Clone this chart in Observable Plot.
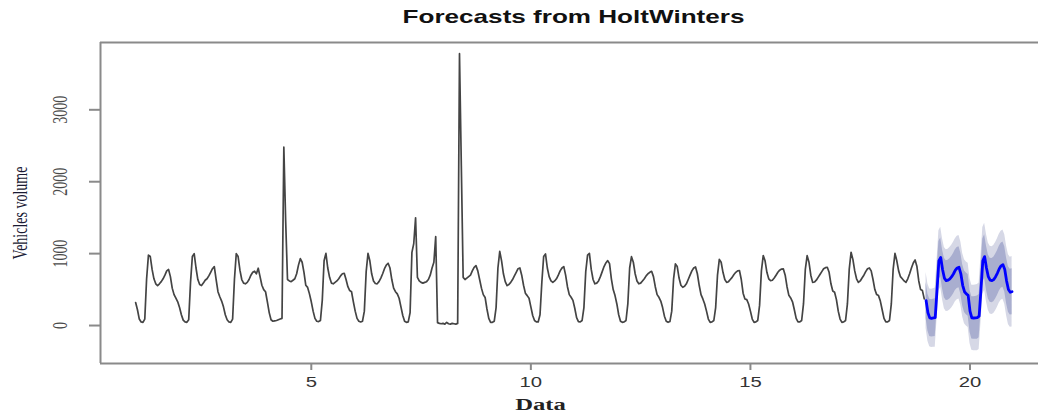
<!DOCTYPE html>
<html>
<head>
<meta charset="utf-8">
<script src="https://cdn.jsdelivr.net/npm/d3@7"></script>
<script src="https://cdn.jsdelivr.net/npm/@observablehq/plot@0.6"></script>
<style>
  html, body { margin: 0; padding: 0; background: #ffffff; }
</style>
</head>
<body>
<div id="chart"></div>
<script>
// ---- DATA ----
const title = "Forecasts from HoltWinters";
const xLabel = "Data";
const yLabel = "Vehicles volume";
const xTicks = [5, 10, 15, 20];
const yTicks = [0, 1000, 2000, 3000];
const startTime = 1;
const frequency = 24;

// observed hourly vehicle volume, one row per day (days 1..18)
const day01 = [320, 220, 90, 50, 45, 90, 650, 980, 960, 780, 650, 580, 555, 580, 610, 650, 700, 760, 780, 680, 520, 430, 380, 330];
const day02 = [250, 150, 75, 50, 45, 80, 600, 960, 1000, 800, 640, 570, 555, 590, 630, 650, 690, 740, 790, 820, 640, 470, 400, 340];
const day03 = [260, 150, 80, 50, 45, 90, 640, 1000, 960, 770, 640, 590, 580, 600, 640, 700, 740, 755, 720, 797, 680, 560, 500, 470];
const day04 = [330, 180, 80, 60, 65, 70, 80, 90, 100, 2480, 1450, 640, 620, 610, 630, 650, 720, 840, 930, 880, 740, 560, 530, 440];
const day05 = [330, 200, 100, 60, 55, 70, 350, 900, 1004, 800, 670, 590, 580, 600, 620, 650, 690, 720, 727, 640, 540, 486, 470, 330];
const day06 = [200, 100, 60, 50, 60, 200, 750, 1004, 900, 720, 620, 585, 580, 610, 660, 720, 790, 840, 866, 800, 640, 520, 470, 440];
const day07 = [380, 260, 140, 60, 45, 50, 180, 1018, 1140, 1497, 670, 620, 600, 590, 600, 610, 640, 700, 800, 880, 1236, 40, 30, 25];
const day08 = [30, 20, 45, 25, 20, 30, 25, 20, 30, 3780, 2220, 670, 640, 660, 680, 700, 760, 810, 833, 760, 640, 520, 430, 390];
const day09 = [230, 100, 45, 45, 60, 250, 800, 1030, 900, 720, 610, 555, 570, 600, 640, 690, 740, 790, 801, 700, 560, 450, 416, 380];
const day10 = [260, 140, 70, 50, 50, 150, 600, 960, 995, 800, 680, 620, 600, 620, 650, 700, 760, 800, 820, 700, 540, 430, 393, 350];
const day11 = [240, 110, 55, 50, 70, 250, 750, 980, 1004, 780, 640, 580, 590, 620, 680, 750, 820, 870, 903, 860, 650, 500, 416, 300];
const day12 = [150, 60, 45, 50, 70, 300, 800, 958, 880, 720, 620, 580, 590, 620, 650, 690, 720, 740, 754, 680, 540, 430, 393, 340];
const day13 = [250, 130, 60, 45, 55, 200, 650, 857, 820, 660, 560, 532, 545, 580, 640, 700, 760, 800, 815, 720, 560, 430, 370, 300];
const day14 = [200, 90, 45, 50, 70, 250, 700, 920, 880, 740, 640, 600, 610, 640, 670, 710, 740, 760, 765, 640, 450, 370, 360, 300];
const day15 = [200, 90, 45, 50, 70, 280, 760, 972, 900, 740, 650, 625, 630, 660, 700, 740, 770, 785, 787, 700, 540, 420, 384, 330];
const day16 = [220, 100, 50, 50, 70, 300, 780, 972, 880, 700, 600, 605, 630, 670, 710, 750, 790, 805, 810, 740, 580, 480, 463, 360];
const day17 = [200, 90, 45, 50, 70, 300, 780, 1018, 920, 760, 650, 600, 620, 660, 700, 750, 790, 801, 760, 640, 500, 430, 416, 340];
const day18 = [220, 100, 50, 50, 70, 300, 780, 1004, 900, 760, 680, 650, 620, 600, 650, 720, 800, 870, 912, 820, 620, 500, 486, 370];

// HoltWinters point forecast for days 19 and 20
const forecast19 = [347, 180, 107, 100, 105, 110, 500, 900, 948, 780, 660, 625, 630, 650, 680, 720, 770, 800, 810, 720, 560, 470, 440, 420];
const forecast20 = [200, 107, 105, 107, 110, 130, 500, 900, 958, 800, 680, 630, 625, 640, 680, 730, 790, 830, 847, 780, 620, 500, 463, 470];

// half widths of the 80% and 95% prediction intervals
const halfWidth80 = [250, 255, 258, 260, 262, 264, 266, 268, 270, 272, 274, 276, 278, 280, 281, 282, 283, 284, 285, 286, 287, 288, 289, 290,
                     292, 294, 296, 298, 300, 301, 302, 303, 304, 305, 306, 307, 308, 309, 310, 311, 312, 313, 314, 315, 316, 317, 318, 320];
const halfWidth95 = [390, 398, 402, 405, 408, 411, 414, 417, 420, 423, 426, 429, 432, 434, 435, 437, 438, 440, 441, 442, 443, 444, 445, 446,
                     450, 452, 455, 458, 460, 462, 463, 465, 466, 468, 469, 471, 472, 474, 475, 477, 478, 480, 481, 483, 484, 486, 488, 490];

// ---- BUILD TABLES ----
const observed = [].concat(day01, day02, day03, day04, day05, day06, day07, day08, day09,
                           day10, day11, day12, day13, day14, day15, day16, day17, day18);
const forecastMean = [].concat(forecast19, forecast20);
const obs = observed.map((v, i) => ({t: startTime + i / frequency, v}));
const fStart = startTime + observed.length / frequency;
const fc = forecastMean.map((v, i) => ({
  t: fStart + i / frequency, v,
  lo80: v - halfWidth80[i], hi80: v + halfWidth80[i],
  lo95: v - halfWidth95[i], hi95: v + halfWidth95[i]
}));

const xDomain = [0.2, 21.56];
const yDomain = [-528, 3936];
const sans = "Liberation Sans, Arial, Helvetica, sans-serif";
const serif = "Liberation Serif, Times New Roman, serif";
const boxColor = "#8a8a8a";

const chart = Plot.plot({
  width: 1038,
  height: 412,
  marginLeft: 100,
  marginRight: 0,
  marginTop: 42,
  marginBottom: 49,
  style: {background: "#ffffff", overflow: "visible"},
  x: {domain: xDomain},
  y: {domain: yDomain},
  marks: [
    Plot.areaY(fc, {x: "t", y1: "lo95", y2: "hi95", fill: "#d6d8e6"}),
    Plot.areaY(fc, {x: "t", y1: "lo80", y2: "hi80", fill: "#a9aecf"}),
    Plot.line(obs, {x: "t", y: "v", stroke: "#444444", strokeWidth: 1.7}),
    Plot.line(fc, {x: "t", y: "v", stroke: "#0000ff", strokeWidth: 2.8}),
    Plot.ruleY([yDomain[0], yDomain[1]], {stroke: boxColor, strokeWidth: 2}),
    Plot.ruleX([xDomain[0]], {stroke: boxColor, strokeWidth: 2}),
    Plot.axisX(xTicks, {tickSize: 7, fill: "none", stroke: boxColor, strokeWidth: 2, label: null}),
    Plot.axisY(yTicks, {tickSize: 11, fill: "none", stroke: boxColor, strokeWidth: 2, label: null}),
    Plot.text(xTicks, {x: d => d, frameAnchor: "bottom", dy: 19, text: d => `${d}`,
      fontSize: 14, fontFamily: sans, fill: "#333333", textAnchor: "middle", lineAnchor: "middle"}),
    Plot.text(yTicks, {y: d => d, frameAnchor: "left", dx: -40, rotate: -90, text: d => `${d}`,
      fontSize: 14, fontFamily: serif, fill: "#4a4a4a", textAnchor: "middle", lineAnchor: "middle"}),
    Plot.text([title], {frameAnchor: "top", dx: 4, dy: -25, text: d => d,
      fontSize: 18, fontWeight: "bold", fontFamily: sans, fill: "#111111", lineAnchor: "middle"}),
    Plot.text([xLabel], {frameAnchor: "bottom", dx: -29, dy: 41, text: d => d,
      fontSize: 17, fontWeight: "bold", fontFamily: serif, fill: "#222222", lineAnchor: "middle"}),
    Plot.text([yLabel], {frameAnchor: "left", dx: -80, dy: 10, rotate: -90, text: d => d,
      fontSize: 14, fontFamily: serif, fill: "#1a1a33", textAnchor: "middle", lineAnchor: "middle"})
  ]
});

// the reference image is stretched horizontally; stretch glyphs the same way
const S = 1.45;
chart.querySelectorAll("text").forEach(t => {
  let tr = t.getAttribute("transform");
  if (tr) {
    if (tr.includes("rotate(")) tr = tr.replace("rotate(", `scale(${S},1) rotate(`);
    else tr = tr + ` scale(${S},1)`;
    t.setAttribute("transform", tr);
  } else {
    const x = +t.getAttribute("x") || 0, y = +t.getAttribute("y") || 0;
    t.setAttribute("transform", `translate(${x},${y}) scale(${S},1) translate(${-x},${-y})`);
  }
});

document.getElementById("chart").appendChild(chart);
</script>
</body>
</html>
